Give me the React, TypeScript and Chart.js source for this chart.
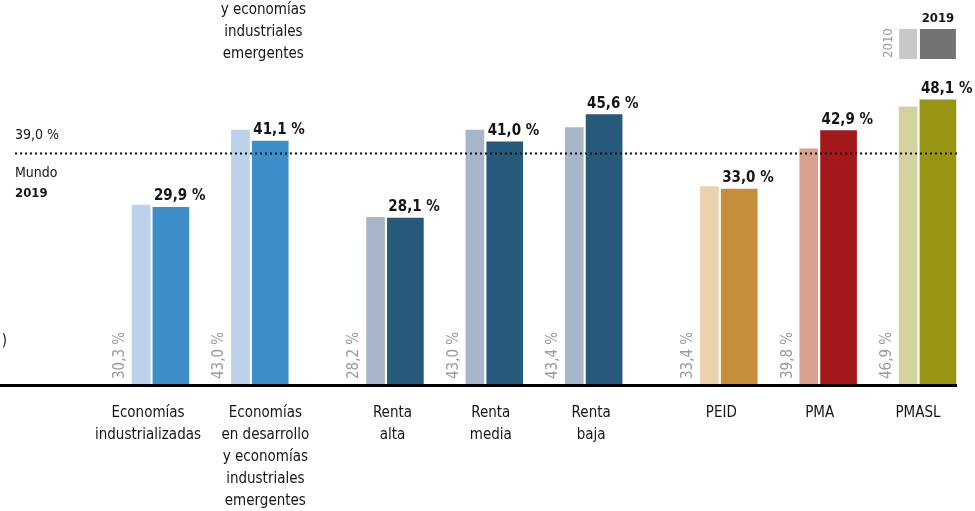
import React, { useEffect, useRef } from "react";
import { Chart, registerables } from "chart.js";

Chart.register(...registerables);

// ---------- data ----------
const categories: string[][] = [
  ["Economías", "industrializadas"],
  ["Economías", "en desarrollo", "y economías", "industriales", "emergentes"],
  ["Renta", "alta"],
  ["Renta", "media"],
  ["Renta", "baja"],
  ["PEID"],
  ["PMA"],
  ["PMASL"],
];
const clusterOf = [0, 0, 1, 1, 1, 2, 2, 2];
const values2010 = [30.3, 43.0, 28.2, 43.0, 43.4, 33.4, 39.8, 46.9];
const values2019 = [29.9, 41.1, 28.1, 41.0, 45.6, 33.0, 42.9, 48.1];
const seriesLabels = ["2010", "2019"];
const worldValue = 39.0;
const worldLabel = ["Mundo", "2019"];
const topClippedLabel = ["y economías", "industriales", "emergentes"];

const colors2010 = ["#bdd1ea", "#bdd1ea", "#a6b5ca", "#a6b5ca", "#a6b5ca", "#ebd1ae", "#d9a28f", "#d4d1a1"];
const colors2019 = ["#3e8fc8", "#3e8fc8", "#275a7a", "#275a7a", "#275a7a", "#c78e3a", "#a3181b", "#989514"];

// ---------- layout constants ----------
const CLUSTER_GAP = 0.36;
const PAIR_OFFSET = 0.15;
const LABEL_NUDGE_PX = [-8, 10, 2, 1, 2, -3, -4, -5];
const FONT = "'DejaVu Sans Condensed', 'DejaVu Sans', sans-serif";
const slots = categories.map((_, i) => i + clusterOf[i] * CLUSTER_GAP);
const fmt = (v: number) => v.toFixed(1).replace(".", ",") + " %";

const overlay = {
  id: "overlay",
  afterDatasetsDraw(chart: any) {
    const { ctx, chartArea } = chart;
    const xs = chart.scales.x;
    const ys = chart.scales.y;
    const y0 = ys.getPixelForValue(0);
    const meta0 = chart.getDatasetMeta(0);
    const meta1 = chart.getDatasetMeta(1);
    ctx.save();

    // baseline
    ctx.fillStyle = "#000";
    ctx.fillRect(chartArea.left, y0, chartArea.right - chartArea.left, 3);

    // world dotted line
    const yw = ys.getPixelForValue(worldValue);
    ctx.strokeStyle = "#111";
    ctx.lineWidth = 2;
    ctx.setLineDash([2, 3]);
    ctx.beginPath();
    ctx.moveTo(15, yw);
    ctx.lineTo(958, yw);
    ctx.stroke();
    ctx.setLineDash([]);

    ctx.fillStyle = "#151515";
    ctx.textAlign = "left";
    ctx.textBaseline = "alphabetic";
    ctx.font = `14px ${FONT}`;
    ctx.fillText(fmt(worldValue), 15, yw - 15);
    ctx.fillText(worldLabel[0], 15, yw + 23);
    ctx.font = `bold 13px ${FONT}`;
    ctx.fillText(worldLabel[1], 15, yw + 43);

    // 2019 value labels
    ctx.font = `bold 15px ${FONT}`;
    ctx.fillStyle = "#151515";
    meta1.data.forEach((bar: any, i: number) => {
      ctx.fillText(fmt(values2019[i]), bar.x - bar.width / 2 + 1, bar.y - 7);
    });

    // 2010 rotated labels
    ctx.font = `15px ${FONT}`;
    ctx.fillStyle = "#9a9a9a";
    ctx.textBaseline = "middle";
    meta0.data.forEach((bar: any, i: number) => {
      ctx.save();
      ctx.translate(bar.x - bar.width / 2 - 12, y0 - 5);
      ctx.rotate(-Math.PI / 2);
      ctx.fillText(fmt(values2010[i]), 0, 0);
      ctx.restore();
    });

    // category labels
    ctx.fillStyle = "#151515";
    ctx.font = `15px ${FONT}`;
    ctx.textAlign = "center";
    ctx.textBaseline = "alphabetic";
    categories.forEach((lines, i) => {
      const cx = xs.getPixelForValue(slots[i]) + LABEL_NUDGE_PX[i];
      lines.forEach((t, k) => ctx.fillText(t, cx, 417 + k * 22));
    });

    // clipped top label (continuation from above)
    const cx1 = xs.getPixelForValue(slots[1]) + 8;
    topClippedLabel.forEach((t, k) => ctx.fillText(t, cx1, 14 + k * 22));

    // clipped left parenthesis
    ctx.textAlign = "right";
    ctx.fillText(")", 7, 345);

    // legend aligned with last group
    const last = meta0.data.length - 1;
    const b0 = meta0.data[last];
    const b1 = meta1.data[last];
    ctx.fillStyle = "#c8c8c8";
    ctx.fillRect(b0.x - b0.width / 2, 29, b0.width, 30);
    ctx.fillStyle = "#737373";
    ctx.fillRect(b1.x - b1.width / 2, 29, b1.width, 30);
    ctx.fillStyle = "#151515";
    ctx.font = `bold 13px ${FONT}`;
    ctx.textAlign = "center";
    ctx.fillText(seriesLabels[1], b1.x, 22);
    ctx.fillStyle = "#9a9a9a";
    ctx.font = `13px ${FONT}`;
    ctx.textAlign = "left";
    ctx.textBaseline = "middle";
    ctx.save();
    ctx.translate(b0.x - b0.width / 2 - 10, 58);
    ctx.rotate(-Math.PI / 2);
    ctx.fillText(seriesLabels[0], 0, 0);
    ctx.restore();

    ctx.restore();
  },
};

export default function App() {
  const ref = useRef<HTMLCanvasElement | null>(null);
  useEffect(() => {
    document.body.style.margin = "0";
    if (!ref.current) return;
    const chart = new Chart(ref.current, {
      type: "bar",
      data: {
        datasets: [
          {
            label: seriesLabels[0],
            data: values2010.map((v, i) => ({ x: slots[i] - PAIR_OFFSET, y: v })),
            backgroundColor: colors2010,
            barThickness: 18,
            grouped: false,
          } as any,
          {
            label: seriesLabels[1],
            data: values2019.map((v, i) => ({ x: slots[i] + PAIR_OFFSET, y: v })),
            backgroundColor: colors2019,
            barThickness: 36,
            grouped: false,
          } as any,
        ],
      },
      options: {
        responsive: false,
        animation: false,
        layout: { padding: { left: 0, right: 18, top: 0, bottom: 127 } },
        plugins: { legend: { display: false }, tooltip: { enabled: false } },
        scales: {
          x: { type: "linear", min: -1.57, max: 8.062, offset: false, display: false },
          y: { min: 0, max: 65, display: false },
        },
      },
      plugins: [overlay],
    });
    return () => chart.destroy();
  }, []);
  return (
    <div style={{ width: 975, height: 511 }}>
      <canvas ref={ref} width={975} height={511} style={{ display: "block" }} />
    </div>
  );
}
